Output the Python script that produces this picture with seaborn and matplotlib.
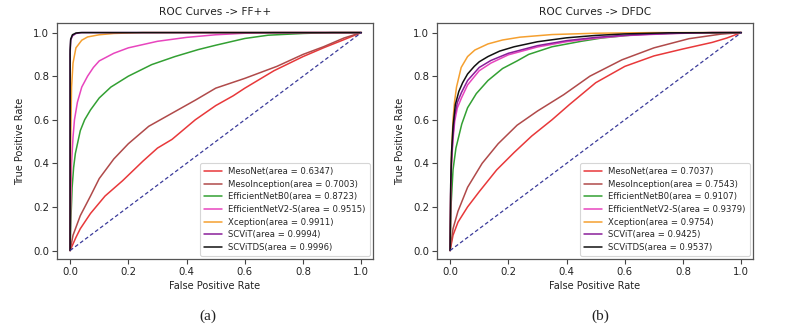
import matplotlib
matplotlib.use("Agg")
import matplotlib.pyplot as plt
import seaborn as sns
import pandas as pd

# ---------------- data ----------------
models = ["MesoNet", "MesoInception", "EfficientNetB0", "EfficientNetV2-S",
          "Xception", "SCViT", "SCViTDS"]
colors = ["#e8383a", "#b04a4a", "#33a033", "#e845be", "#f5a030", "#8a1f9a", "#111111"]

auc_ff = ["0.6347", "0.7003", "0.8723", "0.9515", "0.9911", "0.9994", "0.9996"]
auc_dfdc = ["0.7037", "0.7543", "0.9107", "0.9379", "0.9754", "0.9425", "0.9537"]

# FF++ curves
ff_mesonet_fpr = [0, 0.01, 0.02, 0.035, 0.07, 0.12, 0.18, 0.25, 0.3, 0.35, 0.43, 0.5, 0.56, 0.6, 0.7, 0.8, 0.87, 0.93, 1.0]
ff_mesonet_tpr = [0, 0.03, 0.06, 0.10, 0.17, 0.25, 0.32, 0.41, 0.47, 0.51, 0.6, 0.665, 0.71, 0.745, 0.825, 0.89, 0.93, 0.962, 1.0]
ff_mesoinc_fpr = [0, 0.01, 0.035, 0.07, 0.1, 0.15, 0.2, 0.27, 0.35, 0.43, 0.5, 0.6, 0.71, 0.8, 0.87, 0.94, 1.0]
ff_mesoinc_tpr = [0, 0.07, 0.16, 0.25, 0.33, 0.42, 0.49, 0.57, 0.63, 0.69, 0.745, 0.79, 0.845, 0.9, 0.935, 0.975, 1.0]
ff_effb0_fpr = [0, 0.003, 0.007, 0.012, 0.018, 0.035, 0.05, 0.07, 0.1, 0.14, 0.2, 0.28, 0.36, 0.44, 0.5, 0.6, 0.68, 0.8, 0.9, 1.0]
ff_effb0_tpr = [0, 0.15, 0.29, 0.38, 0.445, 0.55, 0.6, 0.645, 0.70, 0.75, 0.80, 0.853, 0.89, 0.922, 0.942, 0.973, 0.988, 0.996, 1.0, 1.0]
ff_effv2_fpr = [0, 0.002, 0.005, 0.01, 0.015, 0.025, 0.04, 0.06, 0.08, 0.1, 0.15, 0.2, 0.3, 0.4, 0.5, 0.6, 0.7, 1.0]
ff_effv2_tpr = [0, 0.2, 0.4, 0.52, 0.6, 0.68, 0.75, 0.80, 0.84, 0.87, 0.905, 0.93, 0.96, 0.978, 0.99, 0.997, 1.0, 1.0]
ff_xcep_fpr = [0, 0.002, 0.005, 0.01, 0.02, 0.04, 0.06, 0.1, 0.15, 0.25, 1.0]
ff_xcep_tpr = [0, 0.5, 0.75, 0.86, 0.93, 0.965, 0.98, 0.99, 0.996, 1.0, 1.0]
ff_scvit_fpr = [0, 0.0, 0.002, 0.008, 0.02, 0.04, 1.0]
ff_scvit_tpr = [0, 0.9, 0.965, 0.985, 0.996, 1.0, 1.0]
ff_scvitds_fpr = [0, 0.0, 0.002, 0.008, 0.02, 0.035, 1.0]
ff_scvitds_tpr = [0, 0.92, 0.97, 0.99, 0.998, 1.0, 1.0]

# DFDC curves
df_mesonet_fpr = [0, 0.01, 0.027, 0.06, 0.1, 0.16, 0.22, 0.28, 0.35, 0.41, 0.5, 0.6, 0.7, 0.8, 0.9, 0.95, 1.0]
df_mesonet_tpr = [0, 0.07, 0.13, 0.2, 0.27, 0.37, 0.45, 0.525, 0.6, 0.67, 0.77, 0.845, 0.893, 0.925, 0.955, 0.975, 1.0]
df_mesoinc_fpr = [0, 0.01, 0.027, 0.06, 0.11, 0.165, 0.23, 0.3, 0.39, 0.48, 0.59, 0.7, 0.82, 0.93, 1.0]
df_mesoinc_tpr = [0, 0.1, 0.18, 0.29, 0.4, 0.49, 0.575, 0.64, 0.715, 0.8, 0.875, 0.93, 0.972, 0.993, 1.0]
df_effb0_fpr = [0, 0.003, 0.01, 0.02, 0.04, 0.06, 0.09, 0.13, 0.18, 0.23, 0.27, 0.35, 0.45, 0.52, 0.65, 0.8, 1.0]
df_effb0_tpr = [0, 0.2, 0.37, 0.47, 0.58, 0.655, 0.72, 0.78, 0.835, 0.87, 0.9, 0.935, 0.96, 0.975, 0.992, 0.998, 1.0]
df_effv2_fpr = [0, 0.002, 0.005, 0.01, 0.016, 0.025, 0.039, 0.06, 0.1, 0.14, 0.2, 0.3, 0.4, 0.5, 0.6, 0.75, 0.9, 1.0]
df_effv2_tpr = [0, 0.26, 0.4, 0.51, 0.595, 0.655, 0.70, 0.76, 0.825, 0.86, 0.898, 0.934, 0.958, 0.974, 0.986, 0.995, 1.0, 1.0]
df_xcep_fpr = [0, 0.002, 0.005, 0.01, 0.015, 0.022, 0.038, 0.06, 0.085, 0.13, 0.18, 0.24, 0.35, 0.5, 0.7, 1.0]
df_xcep_tpr = [0, 0.25, 0.45, 0.6, 0.68, 0.75, 0.84, 0.89, 0.92, 0.948, 0.966, 0.979, 0.991, 0.997, 1.0, 1.0]
df_scvit_fpr = [0, 0.002, 0.005, 0.01, 0.016, 0.025, 0.039, 0.06, 0.1, 0.14, 0.2, 0.3, 0.4, 0.5, 0.6, 0.75, 0.9, 1.0]
df_scvit_tpr = [0, 0.28, 0.42, 0.53, 0.62, 0.68, 0.725, 0.78, 0.84, 0.872, 0.905, 0.94, 0.963, 0.978, 0.988, 0.996, 1.0, 1.0]
df_scvitds_fpr = [0, 0.002, 0.005, 0.01, 0.018, 0.03, 0.043, 0.06, 0.083, 0.1, 0.13, 0.17, 0.22, 0.3, 0.4, 0.5, 0.6, 0.75, 1.0]
df_scvitds_tpr = [0, 0.3, 0.45, 0.57, 0.67, 0.73, 0.77, 0.81, 0.845, 0.866, 0.89, 0.915, 0.935, 0.958, 0.976, 0.987, 0.994, 0.999, 1.0]

ff_curves = [(ff_mesonet_fpr, ff_mesonet_tpr), (ff_mesoinc_fpr, ff_mesoinc_tpr),
             (ff_effb0_fpr, ff_effb0_tpr), (ff_effv2_fpr, ff_effv2_tpr),
             (ff_xcep_fpr, ff_xcep_tpr), (ff_scvit_fpr, ff_scvit_tpr),
             (ff_scvitds_fpr, ff_scvitds_tpr)]
df_curves = [(df_mesonet_fpr, df_mesonet_tpr), (df_mesoinc_fpr, df_mesoinc_tpr),
             (df_effb0_fpr, df_effb0_tpr), (df_effv2_fpr, df_effv2_tpr),
             (df_xcep_fpr, df_xcep_tpr), (df_scvit_fpr, df_scvit_tpr),
             (df_scvitds_fpr, df_scvitds_tpr)]

diag = [0.0, 1.0]
ticks = [0.0, 0.2, 0.4, 0.6, 0.8, 1.0]
tick_labels = ["0.0", "0.2", "0.4", "0.6", "0.8", "1.0"]

# ---------------- drawing ----------------
sns.set_style("white")
plt.rcParams["font.family"] = ["DejaVu Sans"]
plt.rcParams["axes.edgecolor"] = "#555555"
plt.rcParams["axes.linewidth"] = 0.9

fig = plt.figure(figsize=(7.86, 3.28), dpi=100)
fig.patch.set_facecolor("white")

panels = [
    (57, "ROC Curves -> FF++", ff_curves, auc_ff, "(a)", 208),
    (437, "ROC Curves -> DFDC", df_curves, auc_dfdc, "(b)", 600),
]

for left_px, title, curves, aucs, tag, tag_x in panels:
    ax = fig.add_axes([left_px / 786, 1 - 259 / 328, 316 / 786, 236 / 328])
    for (fpr, tpr), name, col, auc in zip(curves, models, colors, aucs):
        df = pd.DataFrame({"fpr": fpr, "tpr": tpr})
        sns.lineplot(data=df, x="fpr", y="tpr", ax=ax, color=col, lw=1.1,
                     sort=False, estimator=None,
                     label=f"{name}(area = {auc})")
    sns.lineplot(x=diag, y=diag, ax=ax, color="#3a3a9a", lw=0.9,
                 linestyle=(0, (3, 2)), estimator=None, sort=False)
    ax.set_xlim(-0.045, 1.04)
    ax.set_ylim(-0.039, 1.044)
    ax.set_xticks(ticks)
    ax.set_xticklabels(tick_labels)
    ax.set_yticks(ticks)
    ax.set_yticklabels(tick_labels)
    ax.tick_params(axis="both", labelsize=7.3, length=3.5, width=0.8,
                   color="#444444", labelcolor="#222222", pad=2, left=True, bottom=True)
    ax.set_xlabel("False Positive Rate", fontsize=7.0, color="#222222", labelpad=3)
    ax.set_ylabel("True Positive Rate", fontsize=7.0, color="#222222", labelpad=6)
    ax.set_title(title, fontsize=7.6, color="#222222", pad=6)
    leg = ax.legend(loc="lower right", fontsize=6.15, frameon=True,
                    borderaxespad=0.35, handlelength=2.0, labelspacing=0.42,
                    borderpad=0.5, handletextpad=0.8)
    leg.get_frame().set_edgecolor("#cccccc")
    leg.get_frame().set_linewidth(0.8)
    for line in leg.get_lines():
        line.set_linewidth(1.1)
    fig.text(tag_x / 786, 1 - 316 / 328, tag, ha="center", va="center",
             fontsize=11, family=["Liberation Serif"], color="#222222")

fig.savefig("out.png", dpi=100, facecolor="white")
